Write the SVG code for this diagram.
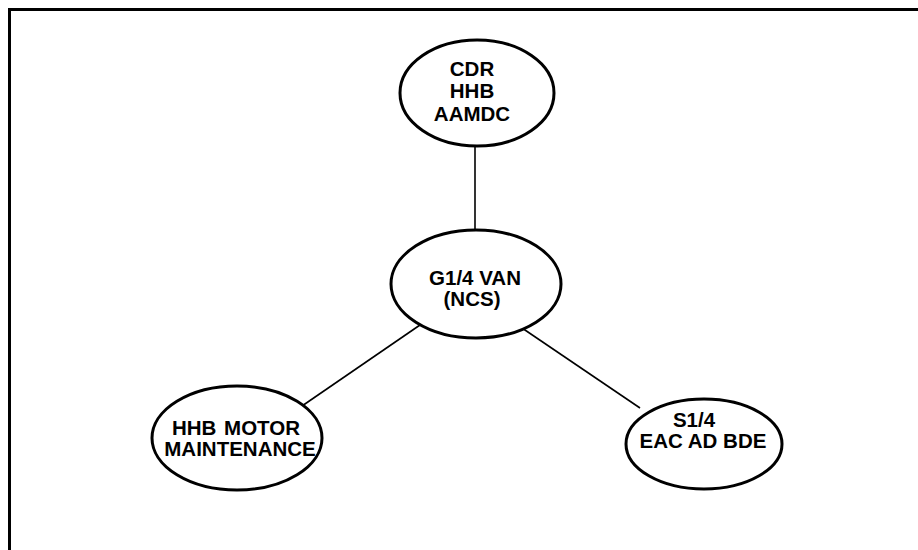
<svg xmlns="http://www.w3.org/2000/svg" width="918" height="550" viewBox="0 0 918 550">
<style>
.node ellipse{fill:#fff;stroke:#000;stroke-width:3}
.node text{font-family:"Liberation Sans",Arial,sans-serif;font-weight:bold;font-size:20.5px;fill:#000;text-anchor:middle}
.edge{stroke:#000;stroke-width:1.6;fill:none}
</style>
<rect width="918" height="550" fill="#fff"/>
<path d="M9.5,560 V9.5 H930" fill="none" stroke="#000" stroke-width="3"/>
<g id="connectors">
<line class="edge" x1="475" y1="146" x2="475" y2="230"/>
<line class="edge" x1="420" y1="325" x2="302" y2="406"/>
<line class="edge" x1="522" y1="328" x2="640" y2="408"/>
</g>
<g id="n-cdr" class="node">
<ellipse cx="477" cy="93" rx="77" ry="53"/>
<text x="472" y="76">CDR</text>
<text x="472" y="98">HHB</text>
<text x="472" y="121">AAMDC</text>
</g>
<g id="n-g14" class="node">
<ellipse cx="476" cy="284" rx="85" ry="54"/>
<text x="475" y="285">G1/4 VAN</text>
<text x="472" y="306">(NCS)</text>
</g>
<g id="n-hhb" class="node">
<ellipse cx="237" cy="438" rx="85" ry="52"/>
<text x="236" y="435" word-spacing="2">HHB MOTOR</text>
<text x="240" y="456">MAINTENANCE</text>
</g>
<g id="n-s14" class="node">
<ellipse cx="704" cy="444" rx="78" ry="45"/>
<text x="694" y="427">S1/4</text>
<text x="703" y="448">EAC AD BDE</text>
</g>
</svg>
